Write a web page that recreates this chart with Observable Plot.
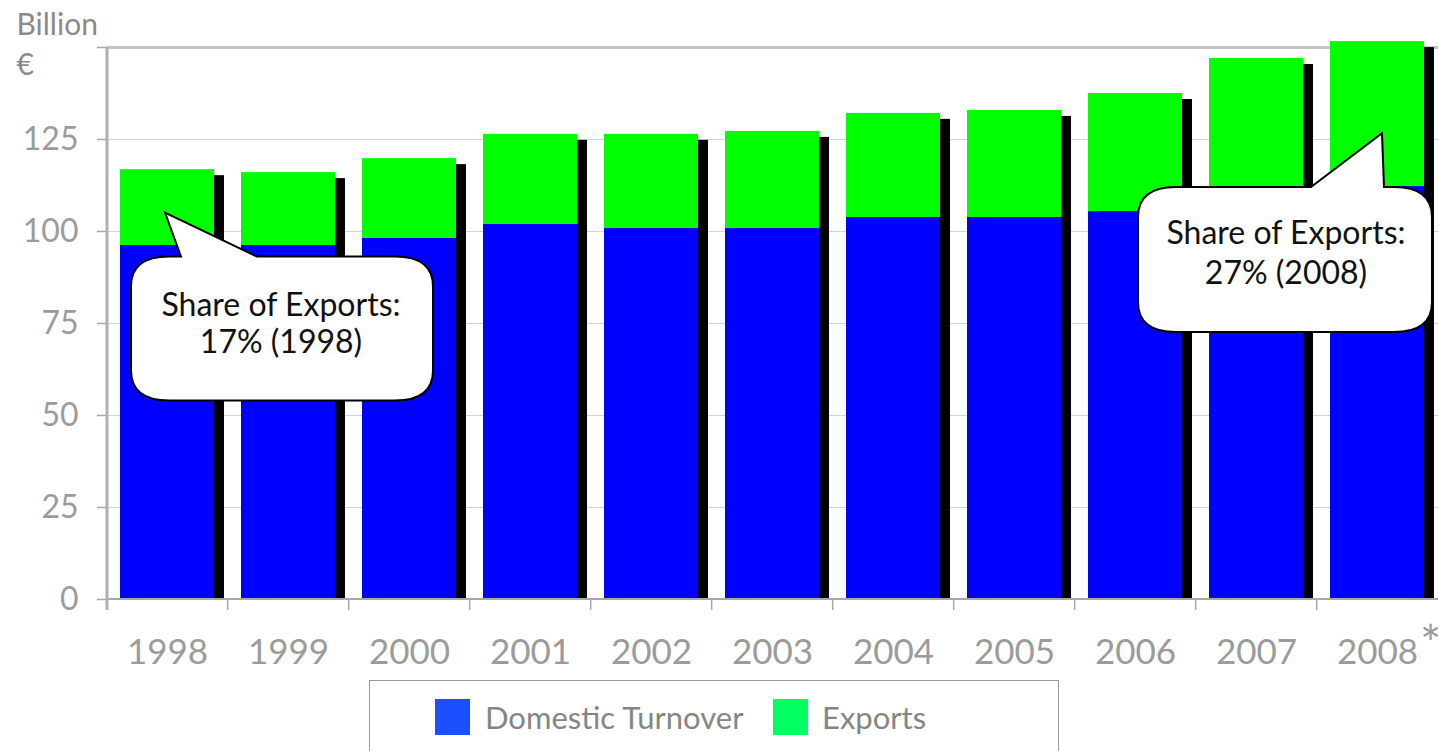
<!DOCTYPE html>
<html>
<head>
<meta charset="utf-8">
<script src="https://cdn.jsdelivr.net/npm/d3@7"></script>
<script src="https://cdn.jsdelivr.net/npm/@observablehq/plot@0.6"></script>
<style>
  html, body { margin: 0; padding: 0; background: #fff; overflow: hidden; }
  body { width: 1439px; height: 751px; font-family: Lato, "Open Sans", sans-serif; }
  #chart svg { display: block; overflow: visible; }
  #legend { position: relative; margin-left: 369px; width: 690px; height: 90px;
            border: 1.5px solid #9a9a9a; border-bottom: none; box-sizing: border-box; }
  .sw { position: absolute; top: 18px; width: 35px; height: 36px; }
  .lt { position: absolute; top: 18px; line-height: 36px; font-size: 31px; color: #858585; }
</style>
</head>
<body>
<div id="chart"></div>
<div id="legend">
  <div class="sw" style="left:65px;background:#1a50ff"></div>
  <div class="lt" style="left:115px">Domestic Turnover</div>
  <div class="sw" style="left:403px;background:#00ff60"></div>
  <div class="lt" style="left:452px">Exports</div>
</div>
<script>
const years = ["1998","1999","2000","2001","2002","2003","2004","2005","2006","2007","2008"];
const domestic = [96.2, 96.2, 98.1, 101.9, 100.8, 100.8, 103.8, 103.8, 105.4, 109.5, 112.2];
const exportsV = [20.6, 19.8, 21.7, 24.5, 25.6, 26.4, 28.3, 29.1, 32.1, 37.5, 39.4];
const yTicks = [0, 25, 50, 75, 100, 125, 150];
const seriesNames = ["Domestic Turnover", "Exports"];
const seriesColors = ["#0000ff", "#00ff00"];
const unitLines = ["Billion", "€"];

// callouts: anchor (year, value) where the pointer tip lies, and their text
const callouts = [
  {year: "1998", value: 105, lines: ["Share of Exports:", "17% (1998)"]},
  {year: "2008", value: 126.6, lines: ["Share of Exports:", "27% (2008)"]}
];
// box geometry relative to the pointer tip (styling)
const calloutShapes = [
  {dx: -2, L: -34, R: 268, T: 44, B: 188, b1: 16, b2: 92, tx: 116, ty1: 103, ty2: 140},
  {dx: 5, L: -244, R: 50, T: 54, B: 199, b1: -71, b2: 2, tx: -96, ty1: 111, ty2: 151}
];

const rows = [];
years.forEach((y, i) => {
  rows.push({year: y, series: seriesNames[0], value: domestic[i]});
  rows.push({year: y, series: seriesNames[1], value: exportsV[i]});
});
const totals = years.map((y, i) => ({year: y, total: domestic[i] + exportsV[i]}));

function axisLines(index, scales, values, dimensions) {
  const {width, marginLeft, marginRight} = dimensions;
  const x = scales.x, y = scales.y;
  const step = x(years[1]) - x(years[0]);
  const g = d3.create("svg:g");
  const y0 = y(0);
  years.forEach((yr) => {
    const bx = x(yr) - 0.11 * step;
    g.append("line").attr("x1", bx).attr("x2", bx).attr("y1", y0).attr("y2", y0 + 11)
      .attr("stroke", "#a8a8a8").attr("stroke-width", 1.5);
  });
  g.append("line").attr("x1", marginLeft).attr("x2", width - marginRight).attr("y1", y0).attr("y2", y0)
    .attr("stroke", "#a8a8a8").attr("stroke-width", 2);
  g.append("line").attr("x1", marginLeft).attr("x2", marginLeft).attr("y1", y(150)).attr("y2", y0 + 11)
    .attr("stroke", "#b0b0b0").attr("stroke-width", 3);
  return g.node();
}

function calloutMark(index, scales) {
  const x = scales.x, y = scales.y;
  const bwRaw = x.bandwidth;
  const bw = typeof bwRaw === "function" ? bwRaw() : bwRaw;
  const g = d3.create("svg:g");
  callouts.forEach((c, i) => {
    const s = calloutShapes[i];
    const tx = x(c.year) + bw / 2 + s.dx, ty = y(c.value);
    const L = tx + s.L, R = tx + s.R, T = ty + s.T, B = ty + s.B;
    const rx = 38, ry = 30;
    const p = `M${L + rx},${T} L${tx + s.b1},${T} L${tx},${ty} L${tx + s.b2},${T} L${R - rx},${T}
      Q${R},${T} ${R},${T + ry} L${R},${B - ry} Q${R},${B} ${R - rx},${B}
      L${L + rx},${B} Q${L},${B} ${L},${B - ry} L${L},${T + ry} Q${L},${T} ${L + rx},${T} Z`;
    g.append("path").attr("d", p).attr("fill", "#fff").attr("stroke", "#000").attr("stroke-width", 2);
    const t = g.append("text").attr("text-anchor", "middle").attr("font-size", 32)
      .attr("font-family", "Lato, sans-serif").attr("fill", "#111");
    t.append("tspan").attr("x", tx + s.tx).attr("y", ty + s.ty1).text(c.lines[0]);
    t.append("tspan").attr("x", tx + s.tx).attr("y", ty + s.ty2).text(c.lines[1]);
  });
  return g.node();
}

const chart = Plot.plot({
  width: 1439,
  height: 680,
  marginLeft: 107,
  marginRight: 1,
  marginTop: 47,
  marginBottom: 81,
  style: {fontFamily: "Lato, sans-serif", background: "white", overflow: "visible"},
  x: {domain: years, paddingInner: 0.22, paddingOuter: 0.11, align: 0.5},
  y: {domain: [0, 150]},
  color: {domain: seriesNames, range: seriesColors},
  marks: [
    Plot.gridY([25, 50, 75, 100, 125], {stroke: "#d3d3d3", strokeOpacity: 1, strokeWidth: 1}),
    Plot.ruleY([150], {stroke: "#c4c4c4", strokeWidth: 3}),
    Plot.barY(totals, {x: "year", y1: 0, y2: "total", fill: "#000", dx: 10, dy: 6, insetBottom: 6}),
    Plot.barY(rows, {x: "year", y: "value", fill: "series", order: seriesNames}),
    axisLines,
    Plot.axisY(yTicks, {
      tickSize: 10, tickPadding: 19, fontSize: 32, fill: "#9b9b9b", stroke: "#a8a8a8", strokeWidth: 1.5,
      tickFormat: d => d === 150 ? "" : String(d), label: null
    }),
    Plot.axisX({tickSize: 0, tickPadding: 40, fontSize: 35, fill: "#9b9b9b", label: null}),
    Plot.text(["*"], {x: () => "2008", y: () => 0, dx: 53, dy: 46, fontSize: 50, fill: "#9b9b9b"}),
    Plot.text([unitLines.join("\n")], {frameAnchor: "top-left", dx: -91, dy: -41,
      textAnchor: "start", lineAnchor: "top", lineHeight: 1.33, fontSize: 30, fill: "#8a8a8a"}),
    calloutMark
  ]
});
document.getElementById("chart").appendChild(chart);
</script>
</body>
</html>
